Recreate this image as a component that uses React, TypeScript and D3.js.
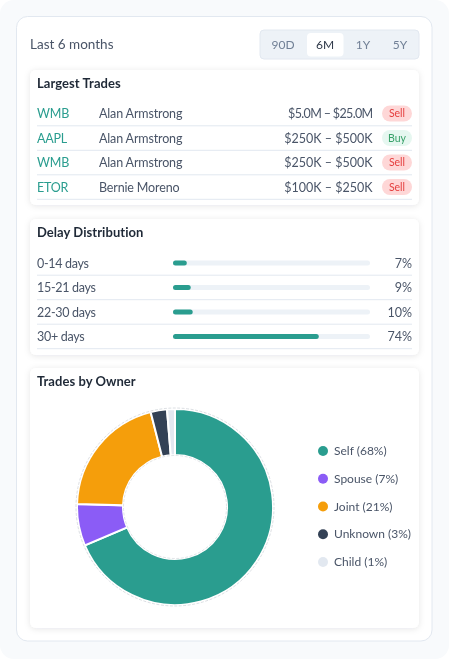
import React from "react";
import * as d3 from "d3";

const periods = ["90D", "6M", "1Y", "5Y"];
const tradeTickers = ["WMB", "AAPL", "WMB", "ETOR"];
const tradeNames = ["Alan Armstrong", "Alan Armstrong", "Alan Armstrong", "Bernie Moreno"];
const tradeAmounts = ["$5.0M – $25.0M", "$250K – $500K", "$250K – $500K", "$100K – $250K"];
const tradeSides = ["Sell", "Buy", "Sell", "Sell"];
const delayLabels = ["0-14 days", "15-21 days", "22-30 days", "30+ days"];
const delayValues = [7, 9, 10, 74];
const ownerLabels = ["Self", "Spouse", "Joint", "Unknown", "Child"];
const ownerPercents = [68, 7, 21, 3, 1];
const ownerShares = [68.6, 6.9, 20.5, 2.7, 1.3];
const ownerColors = ["#2a9d8f", "#8b5cf6", "#f59e0b", "#334155", "#e2e8f0"];

const FONT = "Lato, 'Open Sans', sans-serif";
const periodX = [283, 325, 363, 400];

function Card({ y, h, title }: { y: number; h: number; title: string }) {
  return (
    <g>
      <rect x={30} y={y} width={389} height={h} rx={6} fill="#fff" filter="url(#cardShadow)" />
      <text x={37} y={y + 18.3} fontSize={13} fontWeight={700} fill="#1f2937" letterSpacing={0.05}>
        {title}
      </text>
    </g>
  );
}

export default function App() {
  const tradeY = d3.scalePoint<number>().domain(d3.range(4)).range([113.5, 187]);
  const delayY = d3.scalePoint<number>().domain(d3.range(4)).range([263, 336.5]);
  const barX = d3.scaleLinear().domain([0, 100]).range([173, 370]);
  const legendY = d3.scalePoint<number>().domain(d3.range(5)).range([451, 562]);
  const pie = d3.pie<number>().sort(null).startAngle(0).endAngle(2 * Math.PI);
  const arc = d3.arc<d3.PieArcDatum<number>>().innerRadius(52).outerRadius(98);
  const slices = pie(ownerShares);
  const cx = 175;
  const cy = 507;

  return (
    <svg
      width={449}
      height={659}
      viewBox="0 0 449 659"
      style={{ position: "absolute", left: 0, top: 0, fontFamily: FONT, filter: "blur(0.3px)" }}
    >
      <defs>
        <filter id="cardShadow" x="-5%" y="-10%" width="110%" height="120%">
          <feDropShadow dx={0} dy={1} stdDeviation={3} floodColor="#0f172a" floodOpacity={0.1} />
        </filter>
      </defs>
      <rect width={449} height={659} rx={14} fill="#f8fafc" />
      <rect x={16.5} y={16.5} width={415.5} height={624.5} rx={11} fill="#fff" stroke="#e2e8f0" />
      <text x={30} y={49} fontSize={13.5} fill="#4a5568">Last 6 months</text>

      <rect x={260} y={30} width={159} height={29} rx={4} fill="#edf2f7" stroke="#e2e8f0" />
      <rect x={307} y={33} width={36.5} height={23.5} rx={4} fill="#fff" />
      {periods.map((p, i) => (
        <text key={p} x={periodX[i]} y={48.5} fontSize={12} textAnchor="middle" fill={i === 1 ? "#2d3748" : "#718096"}>
          {p}
        </text>
      ))}

      <Card y={70} h={135} title="Largest Trades" />
      {tradeTickers.map((t, i) => {
        const y = tradeY(i)!;
        const sell = tradeSides[i] === "Sell";
        return (
          <g key={i}>
            <text x={37} y={y + 4.5} fontSize={12.5} fill="#2a9d8f" letterSpacing={-0.2}>{t}</text>
            <text x={99} y={y + 4.5} fontSize={12.5} fill="#4a5568" letterSpacing={-0.15}>{tradeNames[i]}</text>
            <text
              x={372.5}
              y={y + 4.5}
              fontSize={12.5}
              fill="#4a5568"
              textAnchor="end"
              letterSpacing={i === 0 ? -0.65 : 0}
            >
              {tradeAmounts[i]}
            </text>
            <rect x={382} y={y - 8} width={30} height={16} rx={8} fill={sell ? "#fed7d7" : "#e6f7f0"} />
            <text x={397} y={y + 3.5} fontSize={10.5} textAnchor="middle" fill={sell ? "#e53e3e" : "#38a169"}>
              {tradeSides[i]}
            </text>
            <line x1={37} x2={412} y1={y + 12.3} y2={y + 12.3} stroke="#e2e8f0" />
          </g>
        );
      })}

      <Card y={219} h={136} title="Delay Distribution" />
      {delayLabels.map((l, i) => {
        const y = delayY(i)!;
        return (
          <g key={l}>
            <text x={37} y={y + 4.5} fontSize={12.5} fill="#4a5568" letterSpacing={-0.3}>{l}</text>
            <rect x={barX(0)} y={y - 2.5} width={barX(100) - barX(0)} height={5} rx={2.5} fill="#edf2f7" />
            <rect x={barX(0)} y={y - 2.5} width={barX(delayValues[i]) - barX(0)} height={5} rx={2.5} fill="#2a9d8f" />
            <text x={412} y={y + 4.5} fontSize={12.5} fill="#4a5568" textAnchor="end">{delayValues[i]}%</text>
            <line x1={37} x2={412} y1={y + 12.2} y2={y + 12.2} stroke="#e2e8f0" />
          </g>
        );
      })}

      <Card y={368} h={260} title="Trades by Owner" />
      <g transform={`translate(${cx},${cy})`}>
        {slices.map((s, i) => (
          <path key={ownerLabels[i]} d={arc(s)!} fill={ownerColors[i]} stroke="#fff" strokeWidth={2} />
        ))}
        <circle r={99} fill="none" stroke="#9ca3af" strokeWidth={0.5} strokeDasharray="3 1.5" opacity={0.7} />
        <circle r={51.5} fill="none" stroke="#9ca3af" strokeWidth={0.5} strokeDasharray="3 1.5" opacity={0.6} />
      </g>
      {ownerLabels.map((l, i) => (
        <g key={l}>
          <circle cx={323} cy={legendY(i)!} r={5} fill={ownerColors[i]} />
          <text x={334} y={legendY(i)! + 4} fontSize={12} fill="#4a5568">
            {l} ({ownerPercents[i]}%)
          </text>
        </g>
      ))}
    </svg>
  );
}
